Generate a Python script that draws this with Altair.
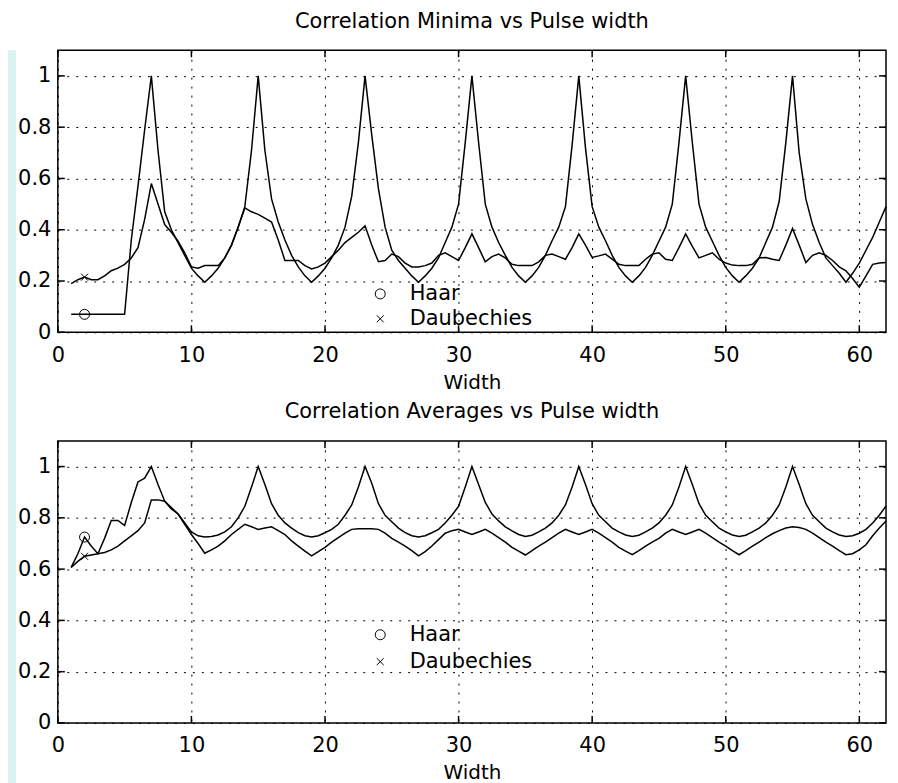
import altair as alt
import pandas as pd

# ---------------- data ----------------
widths = [
    1, 1.5, 2, 2.5, 3, 3.5, 4, 4.5,
    5, 5.5, 6, 6.5, 7, 7.5, 8, 8.5,
    9, 9.5, 10, 10.5, 11, 11.5, 12, 12.5,
    13, 13.5, 14, 14.5, 15, 15.5, 16, 16.5,
    17, 17.5, 18, 18.5, 19, 19.5, 20, 20.5,
    21, 21.5, 22, 22.5, 23, 23.5, 24, 24.5,
    25, 25.5, 26, 26.5, 27, 27.5, 28, 28.5,
    29, 29.5, 30, 30.5, 31, 31.5, 32, 32.5,
    33, 33.5, 34, 34.5, 35, 35.5, 36, 36.5,
    37, 37.5, 38, 38.5, 39, 39.5, 40, 40.5,
    41, 41.5, 42, 42.5, 43, 43.5, 44, 44.5,
    45, 45.5, 46, 46.5, 47, 47.5, 48, 48.5,
    49, 49.5, 50, 50.5, 51, 51.5, 52, 52.5,
    53, 53.5, 54, 54.5, 55, 55.5, 56, 56.5,
    57, 57.5, 58, 58.5, 59, 59.5, 60, 60.5,
    61, 61.5, 62,
]

haar_min = [
    0.07, 0.07, 0.07, 0.07, 0.07, 0.07, 0.07, 0.07,
    0.07, 0.36, 0.57, 0.79, 1.00, 0.71, 0.47, 0.40,
    0.35, 0.30, 0.25, 0.22, 0.195, 0.22, 0.25, 0.29,
    0.34, 0.41, 0.49, 0.71, 1.00, 0.71, 0.52, 0.43,
    0.36, 0.30, 0.255, 0.22, 0.195, 0.22, 0.25, 0.29,
    0.34, 0.41, 0.53, 0.74, 1.00, 0.77, 0.56, 0.41,
    0.32, 0.28, 0.25, 0.22, 0.195, 0.22, 0.25, 0.29,
    0.35, 0.41, 0.50, 0.74, 1.00, 0.74, 0.50, 0.41,
    0.35, 0.30, 0.253, 0.22, 0.195, 0.22, 0.253, 0.30,
    0.357, 0.41, 0.49, 0.73, 1.00, 0.72, 0.49, 0.41,
    0.357, 0.30, 0.253, 0.22, 0.195, 0.22, 0.253, 0.30,
    0.355, 0.41, 0.50, 0.74, 1.00, 0.74, 0.50, 0.41,
    0.355, 0.30, 0.253, 0.22, 0.195, 0.22, 0.25, 0.29,
    0.35, 0.41, 0.51, 0.74, 1.00, 0.70, 0.52, 0.42,
    0.35, 0.29, 0.26, 0.23, 0.195, 0.23, 0.27, 0.32,
    0.37, 0.43, 0.49,
]

daub_min = [
    0.19, 0.205, 0.215, 0.205, 0.205, 0.22, 0.24, 0.25,
    0.265, 0.29, 0.33, 0.44, 0.58, 0.50, 0.42, 0.39,
    0.355, 0.31, 0.255, 0.25, 0.26, 0.26, 0.26, 0.29,
    0.34, 0.41, 0.485, 0.47, 0.46, 0.445, 0.43, 0.36,
    0.28, 0.28, 0.28, 0.26, 0.247, 0.255, 0.27, 0.295,
    0.32, 0.35, 0.37, 0.39, 0.415, 0.34, 0.275, 0.28,
    0.305, 0.295, 0.27, 0.255, 0.255, 0.26, 0.27, 0.30,
    0.31, 0.295, 0.28, 0.33, 0.384, 0.33, 0.275, 0.295,
    0.305, 0.29, 0.265, 0.26, 0.26, 0.26, 0.275, 0.30,
    0.305, 0.295, 0.285, 0.33, 0.384, 0.34, 0.292, 0.298,
    0.305, 0.285, 0.265, 0.26, 0.26, 0.26, 0.285, 0.305,
    0.31, 0.285, 0.28, 0.33, 0.384, 0.335, 0.29, 0.30,
    0.31, 0.285, 0.27, 0.262, 0.26, 0.26, 0.265, 0.29,
    0.292, 0.285, 0.28, 0.34, 0.405, 0.34, 0.272, 0.30,
    0.31, 0.30, 0.28, 0.255, 0.24, 0.21, 0.176, 0.22,
    0.265, 0.27, 0.272,
]

haar_avg = [
    0.607, 0.66, 0.725, 0.69, 0.66, 0.72, 0.79, 0.79,
    0.77, 0.86, 0.94, 0.955, 1.00, 0.93, 0.865, 0.84,
    0.815, 0.78, 0.745, 0.73, 0.725, 0.727, 0.733, 0.745,
    0.765, 0.80, 0.845, 0.92, 1.00, 0.93, 0.855, 0.81,
    0.78, 0.76, 0.742, 0.73, 0.725, 0.73, 0.742, 0.755,
    0.775, 0.81, 0.85, 0.92, 1.00, 0.935, 0.855, 0.81,
    0.785, 0.76, 0.742, 0.73, 0.725, 0.73, 0.742, 0.755,
    0.78, 0.81, 0.845, 0.92, 1.00, 0.93, 0.86, 0.815,
    0.788, 0.765, 0.749, 0.735, 0.727, 0.732, 0.745, 0.76,
    0.78, 0.81, 0.85, 0.92, 1.00, 0.93, 0.855, 0.81,
    0.785, 0.76, 0.745, 0.733, 0.727, 0.732, 0.745, 0.76,
    0.78, 0.81, 0.85, 0.92, 1.00, 0.93, 0.855, 0.81,
    0.785, 0.76, 0.745, 0.733, 0.727, 0.732, 0.745, 0.76,
    0.78, 0.81, 0.85, 0.92, 1.00, 0.93, 0.855, 0.81,
    0.785, 0.76, 0.745, 0.733, 0.727, 0.73, 0.74, 0.755,
    0.78, 0.81, 0.846,
]

daub_avg = [
    0.607, 0.63, 0.65, 0.655, 0.66, 0.665, 0.675, 0.69,
    0.71, 0.73, 0.75, 0.78, 0.87, 0.87, 0.865, 0.835,
    0.815, 0.775, 0.735, 0.70, 0.662, 0.675, 0.69, 0.71,
    0.735, 0.755, 0.775, 0.765, 0.755, 0.76, 0.765, 0.75,
    0.735, 0.71, 0.69, 0.67, 0.652, 0.668, 0.685, 0.705,
    0.723, 0.74, 0.755, 0.757, 0.757, 0.757, 0.755, 0.74,
    0.72, 0.705, 0.69, 0.672, 0.652, 0.668, 0.69, 0.715,
    0.74, 0.75, 0.755, 0.745, 0.735, 0.745, 0.755, 0.74,
    0.723, 0.705, 0.685, 0.67, 0.655, 0.672, 0.69, 0.705,
    0.723, 0.74, 0.755, 0.745, 0.735, 0.745, 0.755, 0.74,
    0.723, 0.705, 0.685, 0.67, 0.656, 0.672, 0.69, 0.705,
    0.72, 0.74, 0.755, 0.745, 0.735, 0.745, 0.755, 0.74,
    0.723, 0.705, 0.69, 0.672, 0.656, 0.672, 0.69, 0.705,
    0.723, 0.738, 0.75, 0.76, 0.765, 0.762, 0.755, 0.74,
    0.723, 0.705, 0.69, 0.672, 0.656, 0.66, 0.675, 0.695,
    0.73, 0.76, 0.788,
]

series_names = ["Haar", "Daubechies"]
x_ticks = [0, 10, 20, 30, 40, 50, 60]
y_ticks = [0, 0.2, 0.4, 0.6, 0.8, 1]
panel_titles = ["Correlation Minima vs Pulse width", "Correlation Averages vs Pulse width"]
x_title = "Width"
marker_width = 2

# ---------------- styling ----------------
FONT = "DejaVu Sans"
FS = 21
W, H = 831, 283
X_MAX, Y_MAX = 62, 1.1
TICK = 7
STRIP = "#dcf4f1"
CROSS = "M-0.7,-0.7L0.7,0.7M0.7,-0.7L-0.7,0.7"


def long_df(h_vals, d_vals):
    rows = []
    for name, vals in zip(series_names, [h_vals, d_vals]):
        for x, v in zip(widths, vals):
            rows.append({"x": x, "y": v, "series": name})
    return pd.DataFrame(rows)


x_scale = alt.Scale(domain=[0, X_MAX], nice=False, zero=False)
y_scale = alt.Scale(domain=[0, Y_MAX], nice=False, zero=False)
x_axis = alt.Axis(values=x_ticks, grid=True, labelPadding=12, titleY=56,
                  titleBaseline="alphabetic", titleFontSize=20,
                  labelFlush=False, labelOverlap=False)
y_axis = alt.Axis(values=y_ticks, grid=True, format="~g", labelPadding=7,
                  labelFlush=False, labelOverlap=False)


def X(field="x"):
    return alt.X(f"{field}:Q", scale=x_scale, axis=x_axis, title=x_title)


def Y(field="y"):
    return alt.Y(f"{field}:Q", scale=y_scale, axis=y_axis, title=None)


def panel(df, title, legend_y, row_pad):
    layers = []
    layers.append(
        alt.Chart(df).mark_line(color="black", strokeWidth=1.5).encode(
            x=X(), y=Y(), detail="series:N", order="x:Q"
        )
    )
    layers.append(
        alt.Chart(df).transform_filter(alt.datum.x == marker_width)
        .mark_point(filled=False, color="black", strokeWidth=1, size=100, opacity=1)
        .encode(
            x=X(), y=Y(),
            shape=alt.Shape(
                "series:N",
                scale=alt.Scale(domain=series_names, range=["circle", CROSS]),
                legend=alt.Legend(
                    title=None, orient="none", legendX=313, legendY=legend_y,
                    labelFont=FONT, labelFontSize=FS, labelColor="black",
                    symbolSize=100, symbolStrokeColor="black", symbolStrokeWidth=1,
                    symbolFillColor="transparent", rowPadding=row_pad, labelOffset=19,
                    padding=0,
                ),
            ),
        )
    )
    xt = alt.Chart(pd.DataFrame({"x": x_ticks}))
    yt = alt.Chart(pd.DataFrame({"y": y_ticks}))
    layers.append(xt.mark_rule(color="black", strokeWidth=1.5).encode(
        x=X(), y=alt.value(H), y2=alt.value(H - TICK)))
    layers.append(xt.mark_rule(color="black", strokeWidth=1.5).encode(
        x=X(), y=alt.value(0), y2=alt.value(TICK)))
    layers.append(yt.mark_rule(color="black", strokeWidth=1.5).encode(
        y=Y(), x=alt.value(0), x2=alt.value(TICK)))
    layers.append(yt.mark_rule(color="black", strokeWidth=1.5).encode(
        y=Y(), x=alt.value(W), x2=alt.value(W - TICK)))
    return alt.layer(*layers).properties(
        width=W, height=H,
        title=alt.TitleParams(text=title, frame="group"),
    )


top = panel(long_df(haar_min, daub_min), panel_titles[0], 234, 3)
bottom = panel(long_df(haar_avg, daub_avg), panel_titles[1], 184, 5)

plots = (
    alt.vconcat(top, bottom, spacing=109, bounds="flush")
    .resolve_scale(shape="independent")
    .resolve_legend(shape="independent")
)

# light cyan window border on the left
strip = (
    alt.Chart(pd.DataFrame({"k": [0]}))
    .mark_rect(color=STRIP)
    .encode(x=alt.value(0), x2=alt.value(8), y=alt.value(0), y2=alt.value(775))
    .properties(width=8, height=775,
                view=alt.ViewBackground(stroke="transparent", strokeWidth=0))
)

chart = (
    alt.hconcat(strip, plots, spacing=0)
    .properties(padding=0, background="white")
    .configure_view(stroke="black", strokeWidth=1.5)
    .configure_axis(
        labelFont=FONT, labelFontSize=FS, labelColor="black",
        titleFont=FONT, titleFontSize=20, titleColor="black", titleFontWeight="normal",
        ticks=False, domain=False,
        gridColor="black", gridDash=[2, 7], gridOpacity=1, gridWidth=1,
    )
    .configure_title(
        font=FONT, fontSize=FS, fontWeight="normal", color="black",
        anchor="middle", offset=18, baseline="alphabetic",
    )
)

chart.save("out.html", embed_options={"renderer": "svg", "actions": False})
